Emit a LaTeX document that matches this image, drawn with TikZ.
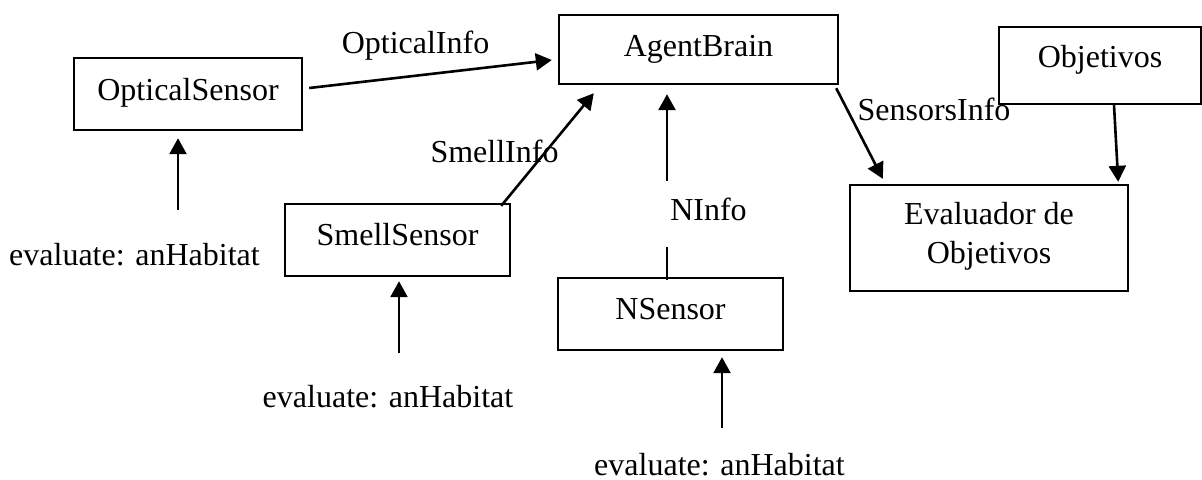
\documentclass[tikz,border=0pt]{standalone}
\usepackage{fontspec}
\setmainfont{Liberation Serif}
\usetikzlibrary{arrows.meta}

\begin{document}
\begin{tikzpicture}[x=0.5pt, y=-0.5pt,
  every node/.style={font=\fontsize{16pt}{19.5pt}\selectfont, inner sep=0pt},
  box/.style={draw, line width=1.2pt, rectangle, align=center},
  txt/.style={anchor=base},
  arr/.style={line width=1.3pt, -{Triangle[length=8pt, width=8.5pt]}},
  plain/.style={line width=1.3pt}
]
\useasboundingbox (0,0) rectangle (1202,479);

% boxes
\node[box, minimum width=114pt, text height=21pt, text depth=15pt] (optical) at (188,94) {OpticalSensor};
\node[box, minimum width=139.5pt, text height=20.5pt, text depth=14pt] (brain) at (698.5,49.5) {AgentBrain};
\node[box, minimum width=101pt, text height=20pt, text depth=18.5pt] (objetivos) at (1100,65.5) {Objetivos};
\node[box, minimum width=139pt, text height=39pt, text depth=14pt] (evaluador) at (989,238) {Evaluador de\\Objetivos};
\node[box, minimum width=112.5pt, text height=20.5pt, text depth=15.5pt] (smell) at (397.5,240) {SmellSensor};
\node[box, minimum width=112.5pt, text height=20.5pt, text depth=15.5pt] (nsensor) at (670.5,314) {NSensor};

% labels
\node[txt] (lopt) at (415.5,53) {OpticalInfo};
\node[txt] (lsmell) at (494.5,162) {SmellInfo};
\node[txt] (lninfo) at (708.5,220) {NInfo};
\node[txt] (lsens) at (934,120) {SensorsInfo};
\node[txt] (eval1) at (134.5,265) {evaluate: anHabitat};
\node[txt] (eval2) at (388,407) {evaluate: anHabitat};
\node[txt] (eval3) at (719.5,475) {evaluate: anHabitat};

% free ends of the input arrows
\coordinate (inopt) at (178,210);
\coordinate (insmell) at (399,353);
\coordinate (inn) at (722,428);
\coordinate (ngapB) at (667,247);
\coordinate (ngapT) at (667,181);

% connectors into AgentBrain
\draw[arr] ([xshift=3pt, yshift=3pt]optical.east) -- ([xshift=-3pt, yshift=-5.25pt]brain.west);
\draw[arr] ([xshift=-5pt, yshift=-1.5pt]smell.north east) -- ([xshift=18pt, yshift=-4pt]brain.south west);
\draw[plain] ([yshift=-1.5pt]nsensor.north -| ngapB) -- (ngapB);
\draw[arr, shorten >=4.5pt] (ngapT) -- (ngapT |- brain.south);

% connectors into the evaluator
\draw[arr] ([xshift=-1.5pt, yshift=-1.5pt]brain.south east) -- ([xshift=17pt, yshift=2.5pt]evaluador.north west);
\draw[arr] ([xshift=7pt]objetivos.south) -- ([xshift=-5.5pt, yshift=1pt]evaluador.north east);

% habitat inputs to the sensors
\draw[arr, shorten >=3.5pt] (inopt) -- (inopt |- optical.south);
\draw[arr, shorten >=2pt] (insmell) -- (insmell |- smell.south);
\draw[arr, shorten >=3pt] (inn) -- (inn |- nsensor.south);
\end{tikzpicture}
\end{document}
